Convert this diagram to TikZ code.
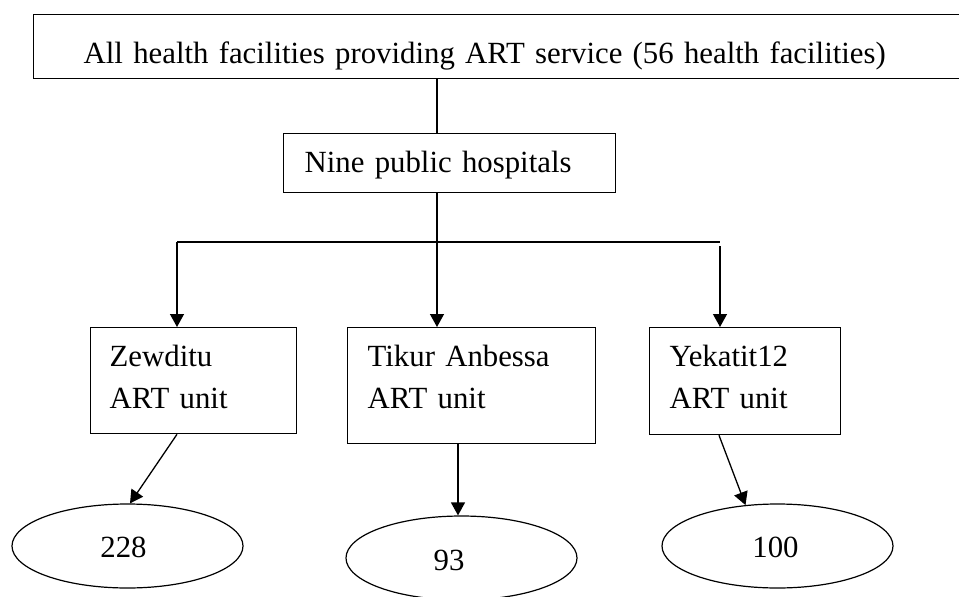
\documentclass[tikz,border=0pt]{standalone}
\usepackage{fontspec}
\setmainfont{Liberation Serif}
\usetikzlibrary{arrows.meta,shapes.geometric}
\begin{document}
\begin{tikzpicture}[x=1pt,y=-1pt,
  boxnode/.style={draw, line width=1.3pt, anchor=north west, align=left, inner ysep=0pt, font=\fontsize{30.8}{42}\selectfont},
  ovalnode/.style={draw, ellipse, line width=1.2pt, minimum width=231pt, minimum height=84pt, inner sep=0pt},
  numtext/.style={font=\fontsize{30.8}{42}\selectfont, inner sep=0pt, anchor=base},
  conn/.style={line width=1.3pt},
  arr/.style={conn, -{Triangle[length=13pt,width=14pt]}}]
\useasboundingbox (0,0) rectangle (959,597);
\clip (0,0) rectangle (959,597);
\fill[white] (0,0) rectangle (959,597);
% boxes
\node[boxnode, inner xsep=50pt, text width=900pt, text height=49pt, text depth=15pt] (top) at (33,14) {All health facilities providing ART service (56 health facilities)};
\node[boxnode, inner xsep=21pt, text width=290pt, text height=39pt, text depth=20pt] (nine) at (283,133) {Nine public hospitals};
\node[boxnode, inner xsep=19pt, text width=168pt, text height=39pt, text depth=67pt] (zew) at (90,327) {Zewditu\\ART unit};
\node[boxnode, inner xsep=20pt, text width=208pt, text height=39pt, text depth=77pt] (tik) at (347,327) {Tikur Anbessa\\ART unit};
\node[boxnode, inner xsep=20pt, text width=151pt, text height=39pt, text depth=68pt] (yek) at (649,327) {Yekatit12\\ART unit};
% ellipses
\node[ovalnode] (e1) at (127.5,546) {};
\node[ovalnode] (e2) at (461.5,558) {};
\node[ovalnode] (e3) at (777.5,546) {};
\node[numtext] (t1) at (123.5,557) {228};
\node[numtext] (t2) at (449,570) {93};
\node[numtext] (t3) at (775.5,557) {100};
% connectors
\coordinate (j) at (437,242);
\coordinate (bl) at (177,242);
\coordinate (br) at (720,242);
\draw[conn] (j |- top.south) -- (j |- nine.north);
\draw[arr] (j |- nine.south) -- (j |- tik.north);
\draw[conn] (bl) -- (br);
\draw[arr] (bl) -- (bl |- zew.north);
\draw[arr] ([yshift=-4pt]br) -- (br |- yek.north);
\draw[arr] ([xshift=87pt]zew.south west) -- ([xshift=2.5pt]e1.north);
\draw[arr] ([xshift=111pt]tik.south west) -- ([xshift=-3.5pt]e2.north);
\draw[arr] ([xshift=70pt]yek.south west) -- ([xshift=-32pt,yshift=-1.7pt]e3.north);
\end{tikzpicture}
\end{document}
